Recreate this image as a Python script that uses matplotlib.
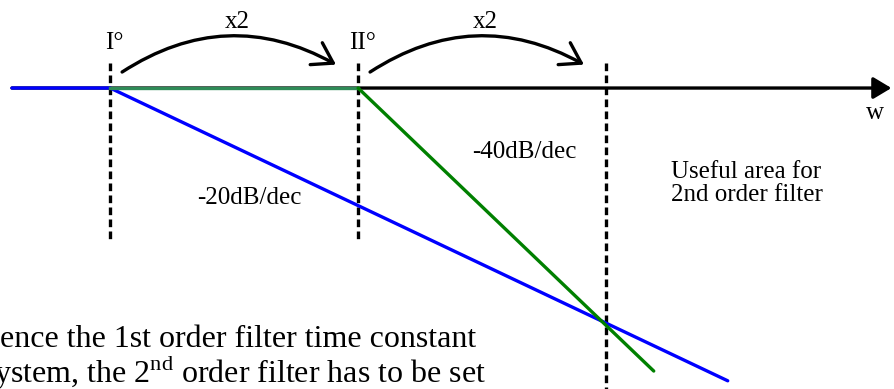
import matplotlib
matplotlib.use("Agg")
import matplotlib.pyplot as plt
from matplotlib.patches import FancyArrowPatch

plt.rcParams['font.family'] = ['Liberation Serif', 'DejaVu Serif']
plt.rcParams['mathtext.fontset'] = 'custom'
plt.rcParams['mathtext.rm'] = 'Liberation Serif'

# corner frequencies: I°, II°, and one more doubling
corner_w = [1, 2, 4]
corner_labels = ['I°', 'II°']
dash_top = 1.28
dash_bottom = [-7.8, -7.8, -15.6]

# 1st order asymptote (-20 dB/dec)
blue_w = [0.76, 1, 5.62]
blue_db = [0, 0, -15.0]
# 2nd order asymptote (-40 dB/dec)
green_flat_w = [1, 2]
green_flat_db = [0, 0]
green_slope_w = [2, 4.57]
green_slope_db = [0, -14.5]
axis_end_w = 8.88

fig = plt.figure(figsize=(8.95, 3.89), dpi=100)
ax = fig.add_axes([0, 0, 1, 1])
ax.set_xscale('log')
ax.set_xlim(0.735, 8.97)
ax.set_ylim(-15.42, 4.51)
ax.axis('off')

lw = 2.4
# frequency axis with arrow
ax.annotate('', xy=(axis_end_w, 0), xytext=(blue_w[0], 0),
            arrowprops=dict(arrowstyle='-|>,head_length=0.55,head_width=0.33',
                            mutation_scale=20, lw=lw, color='black',
                            shrinkA=0, shrinkB=0), zorder=1)

for w, yb in zip(corner_w, dash_bottom):
    ax.plot([w, w], [dash_top, yb], color='black', lw=lw,
            linestyle=(0, (2.3, 1.3)), zorder=2)

ax.plot(blue_w, blue_db, color='#0000ff', lw=lw, solid_capstyle='round', zorder=3)
ax.plot(green_flat_w, green_flat_db, color='#2e8b57', lw=lw, zorder=4)
ax.plot(green_slope_w, green_slope_db, color='#008000', lw=lw,
        solid_capstyle='round', zorder=4)

# curved "x2" arrows between corners
for i in range(2):
    start = (corner_w[i] * 1.034, 0.82)
    end = (corner_w[i + 1] * 0.94, 1.2)
    arr = FancyArrowPatch(start, end, connectionstyle='arc3,rad=-0.3',
                          arrowstyle='->,head_length=0.7,head_width=0.45',
                          mutation_scale=20, lw=lw, color='black',
                          shrinkA=0, shrinkB=0)
    ax.add_patch(arr)
    ax.text((corner_w[i] * corner_w[i + 1]) ** 0.5 * 1.01, 3.4, 'x2',
            fontsize=18, ha='center', va='center')

for w, lab in zip(corner_w, corner_labels):
    ax.text(w * 1.012, 2.3, lab, fontsize=18, ha='center', va='center')

ax.text(8.47, -1.3, 'w', fontsize=18, ha='center', va='center')
ax.text(3.18, -3.3, '-40dB/dec', fontsize=18, ha='center', va='center')
ax.text(1.477, -5.65, '-20dB/dec', fontsize=18, ha='center', va='center')
ax.text(4.8, -4.9, 'Useful area for\n2nd order filter', fontsize=18,
        ha='left', va='center', linespacing=1.05)

fig.text(0.0, 1 - 347 / 389, 'ence the 1st order filter time constant',
         fontsize=23, ha='left', va='baseline')
fig.text(-6 / 895, 1 - 383 / 389,
         r'ystem, the 2$^{\mathrm{nd}}$ order filter has to be set',
         fontsize=23, ha='left', va='baseline')

fig.savefig('out.png', dpi=100)
